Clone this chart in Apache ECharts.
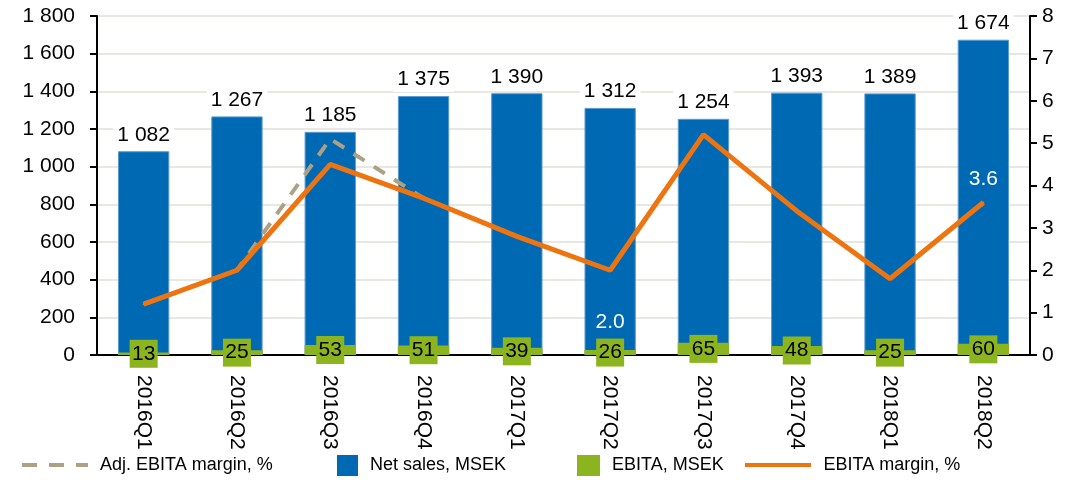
<!DOCTYPE html>
<html><head><meta charset="utf-8">
<script src="https://cdn.jsdelivr.net/npm/echarts@6/dist/echarts.min.js"></script>
<style>html,body{margin:0;padding:0;background:#fff}#c{width:1081px;height:480px}</style>
</head><body><div id="c"></div>
<script>
const categories = ['2016Q1','2016Q2','2016Q3','2016Q4','2017Q1','2017Q2','2017Q3','2017Q4','2018Q1','2018Q2'];
const netSales = [1082, 1267, 1185, 1375, 1390, 1312, 1254, 1393, 1389, 1674];
const ebita = [13, 25, 53, 51, 39, 26, 65, 48, 25, 60];
const ebitaMargin = [1.2, 2.0, 4.5, 3.7, 2.8, 2.0, 5.2, 3.4, 1.8, 3.6];
const adjEbitaMargin = [1.2, 2.0, 5.1, 3.7, null, null, null, null, null, null];
const leftTicks = [0, 200, 400, 600, 800, 1000, 1200, 1400, 1600, 1800];
const rightTicks = [0, 1, 2, 3, 4, 5, 6, 7, 8];
const marginLabelShown = {'2017Q2': 'bottom', '2018Q2': 'top'};

const FONT = '"Liberation Sans Narrow", "Arial Narrow", "Liberation Sans", Arial, sans-serif';
const fmt = v => String(v).replace(/\B(?=(\d{3})+(?!\d))/g, ' ');
const BLUE = '#0069b4', GREEN = '#8cb41e', ORANGE = '#ee7410', TAN = '#aca184';

const chart = echarts.init(document.getElementById('c'), null, {renderer: 'canvas'});
const legendBase = {
  padding: 0, textStyle: {fontFamily: FONT, fontSize: 18, color: '#000', padding: [0, 0, 0, 7]},
  itemGap: 10, orient: 'horizontal', itemStyle: {borderWidth: 0}
};
const dashIcon = 'path://M0,0h15v4h-15z M27,0h15v4h-15z M54,0h12v4h-12z';
const solidIcon = 'path://M0,0h66v4h-66z';
chart.setOption({
  animation: false,
  textStyle: {fontFamily: FONT},
  grid: {left: 97, right: 51, top: 16, bottom: 125},
  legend: [
    Object.assign({}, legendBase, {left: 22, top: 456, itemWidth: 66, itemHeight: 4, data: [{name: 'Adj. EBITA margin, %', icon: dashIcon}]}),
    Object.assign({}, legendBase, {left: 337, top: 455, itemWidth: 21, itemHeight: 21, data: [{name: 'Net sales, MSEK', icon: 'rect'}]}),
    Object.assign({}, legendBase, {left: 577, top: 455, itemWidth: 23, itemHeight: 21, data: [{name: 'EBITA, MSEK', icon: 'rect'}]}),
    Object.assign({}, legendBase, {left: 745, top: 456, itemWidth: 67, itemHeight: 4, data: [{name: 'EBITA margin, %', icon: solidIcon}]})
  ],
  xAxis: {
    type: 'category', data: categories,
    axisLine: {lineStyle: {color: '#000', width: 2}},
    axisTick: {show: false},
    axisLabel: {rotate: -90, margin: 20, color: '#000', fontSize: 21, fontFamily: FONT}
  },
  yAxis: [
    {type: 'value', min: leftTicks[0], max: leftTicks[leftTicks.length-1], interval: 200,
     axisLine: {show: true, lineStyle: {color: '#000', width: 2}},
     axisTick: {show: true, length: 7, lineStyle: {color: '#000', width: 2}},
     axisLabel: {color: '#000', fontSize: 21, margin: 22, fontFamily: FONT, formatter: v => fmt(v)},
     splitLine: {show: true, lineStyle: {color: '#e9e7e1', width: 2}}},
    {type: 'value', min: rightTicks[0], max: rightTicks[rightTicks.length-1], interval: 1,
     axisLine: {show: true, lineStyle: {color: '#000', width: 2}},
     axisTick: {show: true, length: 7, lineStyle: {color: '#000', width: 2}},
     axisLabel: {color: '#000', fontSize: 21, margin: 12, fontFamily: FONT},
     splitLine: {show: false}}
  ],
  series: [
    {name: 'Adj. EBITA margin, %', type: 'line', yAxisIndex: 1, data: adjEbitaMargin,
     symbol: 'none', lineStyle: {color: TAN, width: 4, type: [13, 11]}, itemStyle: {color: TAN}, z: 3},
    {name: 'Net sales, MSEK', type: 'bar', data: netSales, barWidth: '55%', barGap: '-100%',
     itemStyle: {color: BLUE, borderColor: '#5b9bd0', borderWidth: 1},
     label: {show: true, position: 'top', distance: 4, color: '#000', fontSize: 21, fontFamily: FONT,
             backgroundColor: '#fff', padding: [2, 4], formatter: p => fmt(p.value)}, z: 1},
    {name: 'EBITA, MSEK', type: 'bar', data: ebita, barWidth: '55%',
     itemStyle: {color: GREEN},
     label: {show: true, position: 'inside', color: '#000', fontSize: 21, fontFamily: FONT,
             backgroundColor: GREEN, padding: [4, 3, 3, 3], width: 22, align: 'center'}, z: 2},
    {name: 'EBITA margin, %', type: 'line', yAxisIndex: 1,
     data: ebitaMargin.map((v, i) => {
       const pos = marginLabelShown[categories[i]];
       return pos ? {value: v, label: {show: true, position: pos, distance: pos === 'bottom' ? 40 : 12,
         color: '#fff', fontSize: 21, fontFamily: FONT, formatter: p => p.value.toFixed(1)}} : v;
     }),
     symbol: 'circle', symbolSize: 2, showSymbol: true,
     label: {show: false},
     lineStyle: {color: ORANGE, width: 5}, itemStyle: {color: ORANGE}, z: 4}
  ]
});
</script></body></html>
